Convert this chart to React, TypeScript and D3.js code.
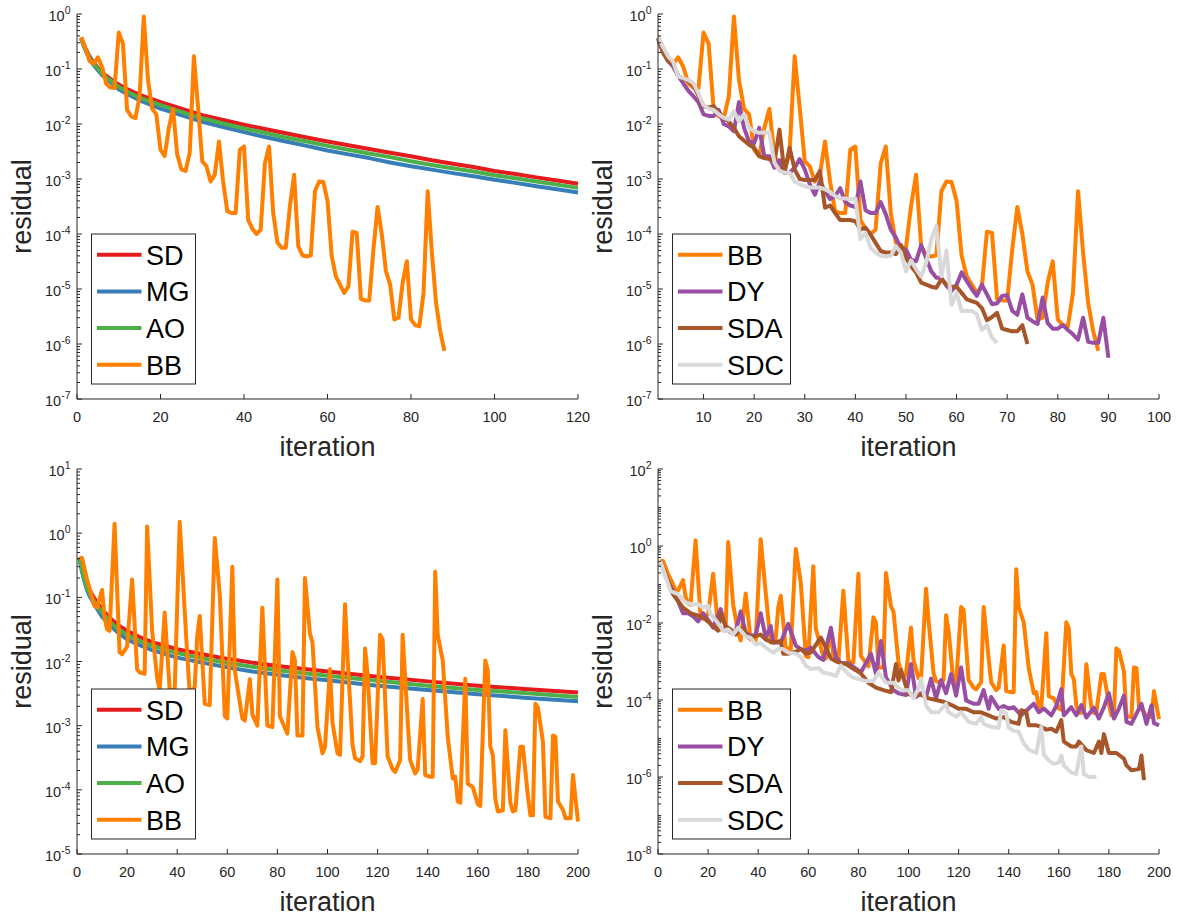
import React from 'react';
import * as d3 from 'd3';

type Pt = [number, number];

// ---------- colors ----------
const C_SD = '#e41a1c';
const C_MG = '#377eb8';
const C_AO = '#4daf4a';
const C_BB = '#ff7f00';
const C_DY = '#984ea3';
const C_SDA = '#a65628';
const C_SDC = '#d9d9d9';

// ---------- ticks ----------
const X_TICKS_TL = [0, 20, 40, 60, 80, 100, 120];
const X_TICKS_TR = [10, 20, 30, 40, 50, 60, 70, 80, 90, 100];
const X_TICKS_B = [0, 20, 40, 60, 80, 100, 120, 140, 160, 180, 200];

// ---------- top-left / top-right data ----------
const SD_TOP: Pt[] = [[1,0.37],[2,0.24],[3,0.17],[4,0.13],[5,0.105],[6,0.088],[7,0.075],[8,0.066],[10,0.052],[12,0.043],[15,0.034],[20,0.025],[25,0.019],[30,0.0145],[35,0.0118],[40,0.0097],[45,0.0081],[50,0.0068],[55,0.0057],[60,0.0048],[65,0.0041],[70,0.0035],[75,0.003],[80,0.0026],[85,0.0022],[90,0.0019],[95,0.00165],[100,0.0014],[105,0.00123],[110,0.00107],[115,0.00094],[120,0.00082]];
const MG_TOP: Pt[] = [[1,0.35],[2,0.22],[3,0.155],[4,0.118],[5,0.095],[6,0.078],[7,0.066],[8,0.058],[10,0.043],[12,0.035],[15,0.027],[20,0.019],[25,0.0145],[30,0.011],[35,0.0088],[40,0.0071],[45,0.0058],[50,0.0048],[55,0.004],[60,0.0033],[65,0.0028],[70,0.0024],[75,0.002],[80,0.0017],[85,0.00148],[90,0.00128],[95,0.00112],[100,0.00097],[105,0.00085],[110,0.00074],[115,0.00065],[120,0.00057]];
const AO_TOP: Pt[] = [[1,0.36],[2,0.23],[3,0.162],[4,0.124],[5,0.1],[6,0.083],[7,0.07],[8,0.062],[10,0.047],[12,0.039],[15,0.03],[20,0.022],[25,0.0166],[30,0.0127],[35,0.0102],[40,0.0083],[45,0.0069],[50,0.0057],[55,0.0048],[60,0.004],[65,0.0034],[70,0.0029],[75,0.0025],[80,0.0021],[85,0.0018],[90,0.00157],[95,0.00137],[100,0.00117],[105,0.00103],[110,0.0009],[115,0.00079],[120,0.00069]];
const BB_TOP: Pt[] = [[1,0.38],[2,0.24],[3,0.14],[4,0.125],[5,0.163],[6,0.11],[7,0.054],[8,0.046],[9,0.045],[10,0.46],[11,0.29],[12,0.018],[13,0.0138],[14,0.0128],[15,0.032],[16,0.9],[17,0.063],[18,0.019],[19,0.015],[20,0.0034],[21,0.0026],[22,0.0085],[23,0.0187],[24,0.0028],[25,0.0015],[26,0.0014],[27,0.003],[28,0.17],[29,0.02],[30,0.0021],[31,0.0017],[32,0.0009],[33,0.0012],[34,0.0048],[35,0.0009],[36,2.6e-4],[37,2.4e-4],[38,2.4e-4],[39,0.0034],[40,0.0039],[41,1.8e-4],[42,1.25e-4],[43,1.0e-4],[44,1.2e-4],[45,0.0019],[46,0.0039],[47,2.4e-4],[48,7e-5],[49,5.6e-5],[50,5.6e-5],[51,3.2e-4],[52,0.0012],[53,6e-5],[54,4.1e-5],[55,3.9e-5],[56,4.1e-5],[57,6e-4],[58,9e-4],[59,8.8e-4],[60,4e-4],[61,4e-5],[62,1.7e-5],[63,1.2e-5],[64,8.5e-6],[65,1.1e-5],[66,1.1e-4],[67,1.05e-4],[68,6.6e-6],[69,6.2e-6],[70,6.2e-6],[71,5.2e-5],[72,3.1e-4],[73,1.0e-4],[74,2.1e-5],[75,1.2e-5],[76,2.8e-6],[77,3.0e-6],[78,1.3e-5],[79,3.2e-5],[80,2.8e-6],[81,2.2e-6],[82,2.1e-6],[83,8.5e-6],[84,6e-4],[85,4.6e-5],[86,5.6e-6],[87,1.7e-6],[88,7.5e-7]];
const DY_TOP: Pt[] = [[1,0.36],[2,0.2],[3,0.14],[4,0.11],[5,0.075],[6,0.055],[7,0.04],[8,0.032],[9,0.025],[10,0.015],[11,0.014],[12,0.014],[13,0.018],[14,0.01],[15,0.009],[16,0.0074],[17,0.025],[18,0.0085],[19,0.0048],[20,0.0045],[21,0.0085],[22,0.0026],[23,0.0026],[24,0.0016],[25,0.0022],[26,0.0013],[27,0.0013],[28,0.0016],[29,0.0023],[30,0.0015],[31,8e-4],[32,5.2e-4],[33,9e-4],[34,6e-4],[35,4.3e-4],[36,4.9e-4],[37,6.8e-4],[38,3.8e-4],[39,3.3e-4],[40,3.1e-4],[41,9e-4],[42,2.7e-4],[43,2.4e-4],[44,2.4e-4],[45,3.8e-4],[46,2.3e-4],[47,1.2e-4],[48,8.6e-5],[49,5.6e-5],[50,5.2e-5],[51,3.4e-5],[52,3.2e-5],[53,6.3e-5],[54,3.6e-5],[55,2.1e-5],[56,1.6e-5],[57,1.6e-5],[58,1.15e-5],[59,9.2e-6],[60,1.2e-5],[61,2e-5],[62,1.4e-5],[63,1e-5],[64,7.5e-6],[65,1.2e-5],[66,8e-6],[67,5.3e-6],[68,5.5e-6],[69,7.5e-6],[70,7.7e-6],[71,4e-6],[72,3.4e-6],[73,8e-6],[74,3e-6],[75,2.6e-6],[76,2.3e-6],[77,7e-6],[78,2.4e-6],[79,1.9e-6],[80,1.9e-6],[81,2.2e-6],[82,1.8e-6],[83,1.5e-6],[84,1.2e-6],[85,3e-6],[86,1.1e-6],[87,1.05e-6],[88,1.05e-6],[89,3e-6],[90,5.6e-7]];
const SDA_TOP: Pt[] = [[1,0.36],[2,0.2],[3,0.14],[4,0.12],[5,0.075],[6,0.066],[7,0.06],[8,0.05],[9,0.033],[10,0.021],[11,0.02],[12,0.021],[13,0.016],[14,0.013],[15,0.011],[16,0.0085],[17,0.006],[18,0.005],[19,0.0042],[20,0.0037],[21,0.0026],[22,0.0024],[23,0.0023],[24,0.002],[25,0.0079],[26,0.0013],[27,0.0037],[28,0.0015],[29,0.001],[30,9.6e-4],[31,9.6e-4],[32,9.6e-4],[33,0.0014],[34,3e-4],[35,3.3e-4],[36,2.4e-4],[37,1.8e-4],[38,1.8e-4],[39,1.8e-4],[40,1.7e-4],[41,1.2e-4],[42,1.3e-4],[43,9.8e-5],[44,6.9e-5],[45,4.9e-5],[46,4.6e-5],[47,4.6e-5],[48,4.3e-5],[49,6.3e-5],[50,3.7e-5],[51,2.6e-5],[52,2e-5],[53,1.3e-5],[54,1.2e-5],[55,1.1e-5],[56,1.05e-5],[57,1.5e-5],[58,1.2e-5],[59,1.1e-5],[60,1.1e-5],[61,8.5e-6],[62,6.5e-6],[63,6e-6],[64,5.6e-6],[65,4.5e-6],[66,2.7e-6],[67,3.1e-6],[68,3.7e-6],[69,1.9e-6],[70,1.8e-6],[71,1.7e-6],[72,1.7e-6],[73,2.2e-6],[74,1e-6]];
const SDC_TOP: Pt[] = [[1,0.38],[2,0.25],[3,0.17],[4,0.135],[5,0.073],[6,0.068],[7,0.063],[8,0.055],[9,0.036],[10,0.022],[11,0.019],[12,0.018],[13,0.015],[14,0.013],[15,0.012],[16,0.017],[17,0.011],[18,0.015],[19,0.0085],[20,0.0074],[21,0.0069],[22,0.007],[23,0.0069],[24,0.002],[25,0.0014],[26,0.0013],[27,0.0013],[28,9e-4],[29,8e-4],[30,7.4e-4],[31,7e-4],[32,7e-4],[33,7e-4],[34,6.5e-4],[35,5.8e-4],[36,4.9e-4],[37,4.4e-4],[38,4.4e-4],[39,4.3e-4],[40,4.4e-4],[41,8e-5],[42,1.05e-4],[43,5.6e-5],[44,4.6e-5],[45,4e-5],[46,3.9e-5],[47,4e-5],[48,6e-5],[49,4.6e-5],[50,2.1e-5],[51,3.3e-5],[52,2.3e-5],[53,1.7e-5],[54,3e-5],[55,8e-5],[56,1.4e-4],[57,1.7e-5],[58,5e-5],[59,5.2e-6],[60,8.5e-6],[61,4e-6],[62,4e-6],[63,4e-6],[64,3.5e-6],[65,1.8e-6],[66,2.2e-6],[67,1.3e-6],[68,1.05e-6]];

// ---------- bottom data ----------
const SD_BOT: Pt[] = [[1,0.42],[2,0.28],[3,0.2],[4,0.155],[5,0.13],[7,0.095],[10,0.065],[13,0.048],[16,0.038],[20,0.03],[25,0.024],[30,0.02],[40,0.0155],[50,0.013],[60,0.011],[70,0.0096],[80,0.0085],[90,0.0077],[100,0.007],[120,0.0058],[140,0.0049],[160,0.0042],[180,0.0037],[200,0.0033]];
const MG_BOT: Pt[] = [[1,0.4],[2,0.25],[3,0.175],[4,0.13],[5,0.105],[7,0.077],[10,0.05],[13,0.037],[16,0.029],[20,0.022],[25,0.018],[30,0.015],[40,0.0115],[50,0.0096],[60,0.0081],[70,0.007],[80,0.0062],[90,0.0056],[100,0.0051],[120,0.0042],[140,0.0036],[160,0.0031],[180,0.0027],[200,0.0024]];
const AO_BOT: Pt[] = [[1,0.41],[2,0.26],[3,0.185],[4,0.14],[5,0.115],[7,0.085],[10,0.058],[13,0.042],[16,0.033],[20,0.026],[25,0.021],[30,0.0175],[40,0.0135],[50,0.0112],[60,0.0095],[70,0.0083],[80,0.0073],[90,0.0066],[100,0.006],[120,0.005],[140,0.0042],[160,0.0036],[180,0.0032],[200,0.0028]];
const BB_BOT: Pt[] = [[1,0.41],[2,0.41],[4,0.19],[5,0.14],[7,0.073],[8,0.069],[10,0.13],[11,0.048],[12,0.032],[13,0.03],[15,1.4],[17,0.014],[18,0.013],[20,0.017],[21,0.055],[22,0.19],[24,0.0076],[25,0.0068],[27,0.0064],[28,1.27],[30,0.03],[32,0.0056],[33,0.0035],[35,0.058],[37,0.0037],[39,0.0035],[41,1.5],[43,0.061],[44,0.013],[45,0.0031],[47,0.004],[48,0.025],[49,0.051],[51,0.0022],[53,0.0021],[55,0.84],[57,0.11],[59,0.0014],[60,0.0013],[62,0.3],[63,0.0072],[66,0.0013],[67,0.0012],[69,0.0053],[70,0.0015],[72,0.001],[74,0.069],[76,0.001],[78,0.00095],[80,0.19],[81,0.0014],[84,7.5e-4],[86,0.014],[87,0.0104],[88,7e-4],[90,7e-4],[91,0.2],[93,0.027],[94,0.02],[96,9.5e-4],[98,3.7e-4],[99,4.7e-4],[101,0.0076],[102,0.0011],[104,3.7e-4],[105,3.5e-4],[107,0.078],[108,0.0116],[110,5e-4],[111,3.1e-4],[113,2.8e-4],[114,3.3e-4],[115,0.016],[116,0.0064],[118,2.6e-4],[119,2.6e-4],[121,0.026],[122,0.022],[124,3.3e-4],[126,2.1e-4],[127,1.9e-4],[129,2.9e-4],[130,0.026],[132,0.0012],[133,2.9e-4],[135,1.8e-4],[136,2.1e-4],[138,0.0026],[139,1.7e-4],[141,1.6e-4],[142,1.6e-4],[143,0.25],[144,0.026],[146,0.0104],[148,6.7e-4],[150,1.5e-4],[151,1.6e-4],[152,6.6e-5],[153,6.3e-5],[155,0.0054],[156,1.25e-4],[158,1.1e-4],[160,6e-5],[161,5.6e-5],[163,0.0104],[164,0.0072],[165,4.7e-4],[166,3.5e-4],[167,7.2e-5],[168,4.6e-5],[170,4.8e-5],[171,8.5e-4],[173,6.3e-5],[174,4.6e-5],[175,4.8e-5],[177,4.7e-4],[178,4.7e-4],[180,8e-5],[181,4e-5],[182,4e-5],[183,0.0022],[184,0.0019],[186,5.6e-4],[187,3.8e-5],[189,3.6e-5],[190,7e-4],[191,6.7e-4],[192,6.6e-5],[194,4.9e-5],[195,3.6e-5],[197,3.6e-5],[198,1.7e-4],[199,7.3e-5],[200,3.2e-5]];
const DY_BOT: Pt[] = [[1,0.4],[3,0.17],[5,0.09],[8,0.037],[10,0.018],[12,0.018],[14,0.015],[16,0.011],[18,0.018],[20,0.012],[22,0.0076],[25,0.023],[27,0.0076],[29,0.0056],[31,0.006],[33,0.02],[35,0.0056],[37,0.0047],[39,0.0049],[41,0.018],[43,0.0042],[45,0.0083],[46,0.0031],[49,0.0031],[52,0.0095],[55,0.0026],[57,0.0021],[59,0.0019],[61,0.0023],[64,0.0013],[66,0.0011],[69,0.0076],[71,0.0013],[73,9e-4],[76,9e-4],[79,6.5e-4],[81,5.2e-4],[85,0.0016],[87,4.9e-4],[89,0.0034],[91,3.9e-4],[94,1.8e-4],[96,1.5e-4],[99,1.35e-4],[101,8.6e-4],[103,1.2e-4],[105,1.5e-4],[107,1.2e-4],[109,3.6e-4],[111,1.1e-4],[113,3.3e-4],[115,1.5e-4],[117,4.7e-4],[119,1.3e-4],[121,7e-4],[123,9.8e-5],[126,8e-5],[128,8e-5],[130,1.8e-4],[132,5.9e-5],[133,1.2e-4],[136,5.9e-5],[138,7e-5],[140,6e-5],[142,6.5e-5],[145,4e-5],[148,6e-5],[150,8e-5],[152,4.8e-5],[154,6e-5],[157,4e-5],[159,7e-5],[161,1.9e-4],[162,4e-5],[165,6.5e-5],[167,4e-5],[169,7.4e-5],[171,3.5e-5],[174,6.3e-5],[176,3.3e-5],[178,6.5e-5],[180,1.5e-4],[182,3.3e-5],[184,6e-5],[186,1.3e-4],[187,2.7e-5],[189,2.4e-5],[193,8e-5],[195,2.4e-5],[197,7.3e-5],[198,2.5e-5],[200,2.2e-5]];
const SDA_BOT: Pt[] = [[1,0.4],[6,0.056],[10,0.025],[13,0.018],[18,0.014],[21,0.0095],[24,0.0063],[25,0.018],[27,0.0083],[29,0.0068],[31,0.005],[34,0.0076],[36,0.0042],[39,0.0046],[41,0.005],[43,0.0037],[46,0.0031],[49,0.0034],[50,0.0016],[52,0.0016],[55,0.0018],[57,0.0021],[59,0.0016],[61,0.0017],[64,0.0034],[65,0.0042],[67,0.0023],[69,0.0012],[72,9.5e-4],[75,8.6e-4],[78,6.5e-4],[81,4.9e-4],[84,2.8e-4],[87,2.1e-4],[90,1.8e-4],[93,1.6e-4],[95,8.6e-4],[96,3.2e-4],[97,6e-4],[100,1.4e-4],[102,1.35e-4],[105,1.35e-4],[108,1.1e-4],[111,1e-4],[114,9e-5],[117,7.5e-5],[120,5.9e-5],[123,5.9e-5],[126,4.8e-5],[129,4.8e-5],[132,4e-5],[135,3.3e-5],[138,3.6e-5],[141,2.7e-5],[144,2.4e-5],[145,5.4e-5],[147,5e-5],[148,2.2e-5],[151,2.2e-5],[153,2e-5],[155,1.7e-5],[157,1.8e-5],[159,1.5e-5],[161,3e-5],[162,8.3e-6],[165,6.2e-6],[167,6.2e-6],[168,8.3e-6],[171,5e-6],[174,4.2e-6],[176,8.3e-6],[177,4.2e-6],[178,1.3e-5],[180,4.2e-6],[183,4.2e-6],[186,3e-6],[187,2e-6],[189,1.5e-6],[192,1.6e-6],[193,3.6e-6],[194,8.3e-7]];
const SDC_BOT: Pt[] = [[1,0.4],[5,0.067],[8,0.056],[11,0.034],[14,0.03],[16,0.031],[18,0.025],[20,0.028],[21,0.017],[23,0.012],[26,0.0063],[28,0.0068],[30,0.005],[32,0.0076],[35,0.0045],[37,0.0041],[39,0.0028],[41,0.003],[43,0.0023],[46,0.0017],[48,0.0021],[50,0.0021],[52,0.0017],[55,0.0016],[57,0.0013],[59,7.8e-4],[61,6.4e-4],[64,6.8e-4],[66,5.2e-4],[69,4.7e-4],[71,4.2e-4],[73,7.8e-4],[76,4.7e-4],[78,3.8e-4],[80,3.5e-4],[83,3.1e-4],[86,3.1e-4],[88,5.2e-4],[91,2.8e-4],[94,2.8e-4],[97,1.8e-4],[100,1.8e-4],[102,1.1e-4],[104,2e-4],[105,3.6e-4],[107,7.2e-5],[109,4.8e-5],[112,4.8e-5],[115,8e-5],[116,4.8e-5],[119,3.7e-5],[121,4.8e-5],[124,2.7e-5],[127,2.4e-5],[129,3.6e-5],[130,2.4e-5],[133,2e-5],[136,1.9e-5],[137,5.4e-5],[139,4.5e-5],[140,1.9e-5],[142,1.6e-5],[144,1.5e-5],[146,7.5e-6],[148,5.1e-6],[151,4.2e-6],[153,2e-5],[154,3.8e-6],[156,2.7e-6],[158,2.2e-6],[160,2.4e-6],[161,3.6e-6],[162,2e-6],[165,1.3e-6],[167,1.2e-6],[169,6.2e-6],[170,1.2e-6],[172,1e-6],[175,1e-6]];

const AXIS = '#262626';
const FONT = '"Liberation Sans", Arial, Helvetica, sans-serif';

type Series = { name: string; color: string; data: Pt[] };

interface PanelProps {
  left: number; top: number; width: number; height: number;
  xDomain: [number, number]; xTicks: number[];
  yMinExp: number; yMaxExp: number; yLabelStep: number;
  series: Series[]; legendWidth: number;
}

function Panel(p: PanelProps) {
  const x = d3.scaleLinear().domain(p.xDomain).range([p.left, p.left + p.width]);
  const y = d3.scaleLog().domain([Math.pow(10, p.yMinExp), Math.pow(10, p.yMaxExp)]).range([p.top + p.height, p.top]);
  const line = d3.line<Pt>().x(d => x(d[0])).y(d => y(d[1]));
  const bottom = p.top + p.height;
  const majors: number[] = [];
  for (let e = p.yMaxExp; e >= p.yMinExp; e--) majors.push(e);
  const minors: number[] = [];
  for (let e = p.yMinExp; e < p.yMaxExp; e++) {
    for (let k = 2; k <= 9; k++) minors.push(k * Math.pow(10, e));
  }
  const lgLeft = p.left + 14.5;
  const lgH = 150;
  const lgTop = bottom - 15 - lgH;
  return (
    <g>
      {p.series.map(s => (
        <path key={s.name} d={line(s.data) || ''} fill="none" stroke={s.color} strokeWidth={4}
          strokeLinejoin="round" strokeLinecap="butt" />
      ))}
      {/* axes */}
      <line x1={p.left} x2={p.left} y1={p.top} y2={bottom} stroke={AXIS} strokeWidth={1} />
      <line x1={p.left} x2={p.left + p.width} y1={bottom} y2={bottom} stroke={AXIS} strokeWidth={1} />
      {p.xTicks.map(t => (
        <g key={'xt' + t}>
          <line x1={x(t)} x2={x(t)} y1={bottom} y2={bottom - 5} stroke={AXIS} strokeWidth={1} />
          <text x={x(t)} y={bottom + 23} textAnchor="middle" fontSize={14.5} fill={AXIS} fontFamily={FONT}>{t}</text>
        </g>
      ))}
      {minors.map((v, i) => (
        <line key={'mn' + i} x1={p.left} x2={p.left + 3} y1={y(v)} y2={y(v)} stroke={AXIS} strokeWidth={1} />
      ))}
      {majors.map(e => {
        const labeled = (e - p.yMinExp) % p.yLabelStep === 0;
        return (
          <g key={'yt' + e}>
            <line x1={p.left} x2={p.left + (labeled ? 5 : 3)} y1={y(Math.pow(10, e))} y2={y(Math.pow(10, e))} stroke={AXIS} strokeWidth={1} />
            {labeled && (
              <text x={p.left - 6.5} y={y(Math.pow(10, e)) + 7} textAnchor="end" fontSize={14.5} fill={AXIS} fontFamily={FONT}>
                10<tspan dy={-7} fontSize={10.5}>{String(e).replace('-', '-')}</tspan>
              </text>
            )}
          </g>
        );
      })}
      <text x={p.left + p.width / 2} y={bottom + 57} textAnchor="middle" fontSize={27} fill={AXIS} fontFamily={FONT}>iteration</text>
      <text transform={`translate(${p.left - 46},${p.top + p.height / 2}) rotate(-90)`} textAnchor="middle" fontSize={27} fill={AXIS} fontFamily={FONT}>residual</text>
      {/* legend */}
      <rect x={lgLeft} y={lgTop} width={p.legendWidth} height={lgH} fill="#ffffff" stroke={AXIS} strokeWidth={1} />
      {p.series.slice().sort((a, b) => 0).map((s, i) => {
        const ry = lgTop + 20.7 + i * 36.7;
        return (
          <g key={'lg' + s.name}>
            <line x1={lgLeft + 5.5} x2={lgLeft + 50} y1={ry} y2={ry} stroke={s.color} strokeWidth={4} />
            <text x={lgLeft + 54.5} y={ry + 10} fontSize={27} fill="#000000" fontFamily={FONT}>{s.name}</text>
          </g>
        );
      })}
    </g>
  );
}

export default function App() {
  const seriesTL: Series[] = [
    { name: 'SD', color: C_SD, data: SD_TOP },
    { name: 'MG', color: C_MG, data: MG_TOP },
    { name: 'AO', color: C_AO, data: AO_TOP },
    { name: 'BB', color: C_BB, data: BB_TOP },
  ];
  const seriesTR: Series[] = [
    { name: 'BB', color: C_BB, data: BB_TOP },
    { name: 'DY', color: C_DY, data: DY_TOP },
    { name: 'SDA', color: C_SDA, data: SDA_TOP },
    { name: 'SDC', color: C_SDC, data: SDC_TOP },
  ];
  const seriesBL: Series[] = [
    { name: 'SD', color: C_SD, data: SD_BOT },
    { name: 'MG', color: C_MG, data: MG_BOT },
    { name: 'AO', color: C_AO, data: AO_BOT },
    { name: 'BB', color: C_BB, data: BB_BOT },
  ];
  const seriesBR: Series[] = [
    { name: 'BB', color: C_BB, data: BB_BOT },
    { name: 'DY', color: C_DY, data: DY_BOT },
    { name: 'SDA', color: C_SDA, data: SDA_BOT },
    { name: 'SDC', color: C_SDC, data: SDC_BOT },
  ];
  return (
    <svg width={1179} height={918} style={{ position: 'absolute', left: 0, top: 0, background: '#ffffff' }}>
      <rect x={0} y={0} width={1179} height={918} fill="#ffffff" />
      <Panel left={77} top={14} width={501} height={385} xDomain={[0, 120]} xTicks={X_TICKS_TL}
        yMinExp={-7} yMaxExp={0} yLabelStep={1} series={seriesTL} legendWidth={104} />
      <Panel left={658} top={14} width={501} height={385} xDomain={[1, 100]} xTicks={X_TICKS_TR}
        yMinExp={-7} yMaxExp={0} yLabelStep={1} series={seriesTR} legendWidth={118} />
      <Panel left={77} top={469} width={501} height={385} xDomain={[0, 200]} xTicks={X_TICKS_B}
        yMinExp={-5} yMaxExp={1} yLabelStep={1} series={seriesBL} legendWidth={104} />
      <Panel left={658} top={469} width={501} height={385} xDomain={[0, 200]} xTicks={X_TICKS_B}
        yMinExp={-8} yMaxExp={2} yLabelStep={2} series={seriesBR} legendWidth={118} />
    </svg>
  );
}
